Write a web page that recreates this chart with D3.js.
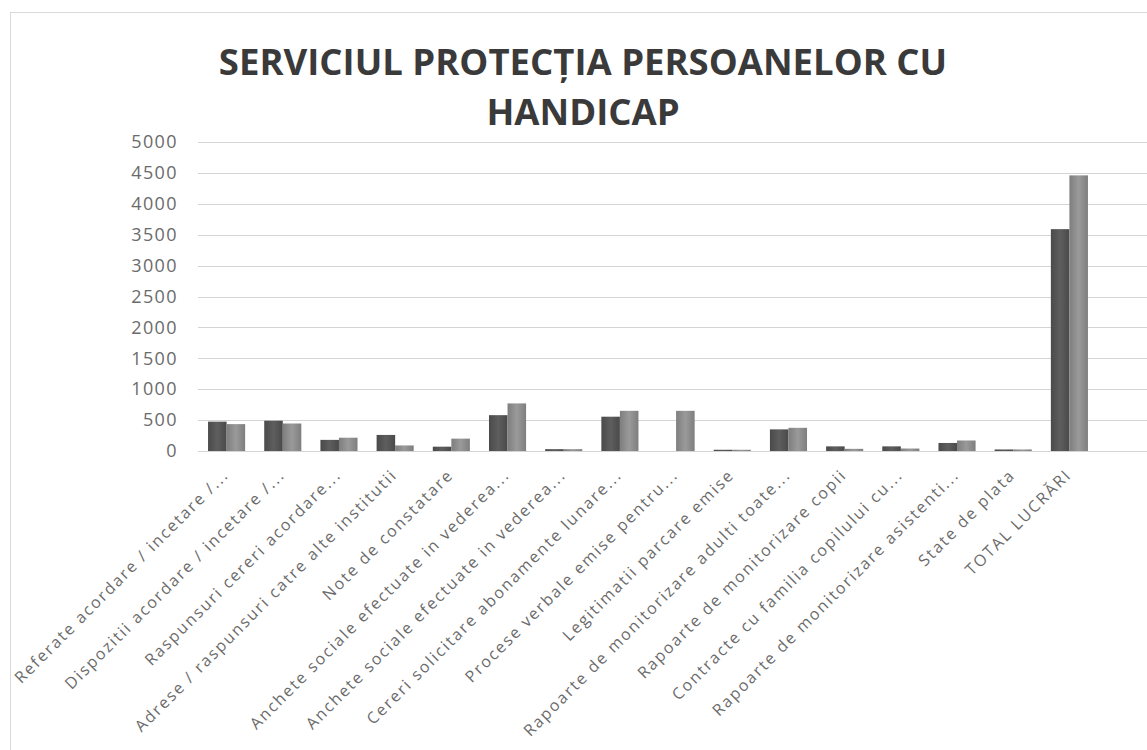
<!DOCTYPE html>
<html><head><meta charset="utf-8">
<script src="https://cdn.jsdelivr.net/npm/d3@7"></script>
<style>body{margin:0;background:#fff}svg{display:block}</style>
</head><body>
<svg id="c" width="1147" height="750"></svg>
<script>
const categories = [
  "Referate acordare / incetare /...",
  "Dispozitii acordare / incetare /...",
  "Raspunsuri cereri acordare...",
  "Adrese / raspunsuri catre alte institutii",
  "Note de constatare",
  "Anchete sociale efectuate in vederea...",
  "Anchete sociale efectuate in vederea...",
  "Cereri solicitare abonamente lunare...",
  "Procese verbale emise pentru...",
  "Legitimatii parcare emise",
  "Rapoarte de monitorizare adulti toate...",
  "Rapoarte de monitorizare copii",
  "Contracte cu familia copilului cu...",
  "Rapoarte de monitorizare asistenti...",
  "State de plata",
  "TOTAL LUCRĂRI"
];
const series1 = [475, 490, 180, 260, 70, 580, 30, 555, 0, 20, 350, 75, 75, 130, 25, 3590];
const series2 = [435, 445, 215, 90, 200, 770, 30, 650, 650, 20, 375, 35, 40, 170, 25, 4460];
const yTicks = [0, 500, 1000, 1500, 2000, 2500, 3000, 3500, 4000, 4500, 5000];
const titleLines = ["SERVICIUL PROTECȚIA PERSOANELOR CU", "HANDICAP"];

const svg = d3.select("#c");
// chart border
svg.append("rect").attr("x",10.5).attr("y",12.5).attr("width",1160).attr("height",760)
  .attr("fill","none").attr("stroke","#d9d9d9");

const x = d3.scaleBand().domain(d3.range(categories.length)).range([198.5, 1097.5]).paddingInner(0.34).paddingOuter(0.17);
const y = d3.scaleLinear().domain([0, 5000]).range([451, 142]);

// gridlines
svg.append("g").selectAll("line").data(yTicks).join("line")
  .attr("x1",198).attr("x2",1147).attr("y1",d=>Math.round(y(d))+0.5).attr("y2",d=>Math.round(y(d))+0.5)
  .attr("stroke","#d4d4d4").attr("stroke-width",1.2);

// y axis labels
const yAxis = d3.axisLeft(y).tickValues(yTicks).tickFormat(d3.format("d")).tickSize(0).tickPadding(0);
const ya = svg.append("g").attr("transform","translate(178,0)").call(yAxis);
ya.select(".domain").remove();
ya.selectAll("text").attr("font-family","Open Sans").attr("font-size",18).attr("fill","#6b6b6b").attr("letter-spacing",1.4);

// bars
const defs = svg.append("defs");
function grad(id, c1, c2){
  const g = defs.append("linearGradient").attr("id",id).attr("x1","0").attr("x2","1");
  g.append("stop").attr("offset","0").attr("stop-color",c1);
  g.append("stop").attr("offset","0.5").attr("stop-color",c2);
  g.append("stop").attr("offset","1").attr("stop-color",c1);
}
grad("g1","#4a4a4a","#5e5e5e");
grad("g2","#7e7e7e","#9a9a9a");
const sub = d3.scaleBand().domain([0,1]).range([0, x.bandwidth()]);
const groups = svg.append("g").selectAll("g").data(categories.map((c,i)=>i)).join("g")
  .attr("transform", i=>`translate(${x(i)},0)`);
groups.append("rect").attr("x",sub(0)).attr("width",sub.bandwidth())
  .attr("y",i=>y(series1[i])).attr("height",i=>y(0)-y(series1[i])).attr("fill","url(#g1)");
groups.append("rect").attr("x",sub(1)).attr("width",sub.bandwidth())
  .attr("y",i=>y(series2[i])).attr("height",i=>y(0)-y(series2[i])).attr("fill","url(#g2)");

// x labels
svg.append("g").selectAll("text").data(categories).join("text")
  .attr("transform",(d,i)=>`translate(${x(i)+x.bandwidth()/2+3},${476}) rotate(-45)`)
  .attr("text-anchor","end")
  .attr("font-family","Open Sans").attr("font-size",16).attr("fill","#6b6b6b").attr("letter-spacing",1.9)
  .text(d=>d);

// title
const tf = (sel)=>sel.attr("text-anchor","middle").attr("font-family","Open Sans").attr("font-weight","bold")
  .attr("font-size",36.5).attr("fill","#3a3a3a");
svg.append("text").attr("x",583).attr("y",75).call(tf).text(titleLines[0]);
svg.append("text").attr("x",583).attr("y",125).call(tf).text(titleLines[1]);
</script>
</body></html>
